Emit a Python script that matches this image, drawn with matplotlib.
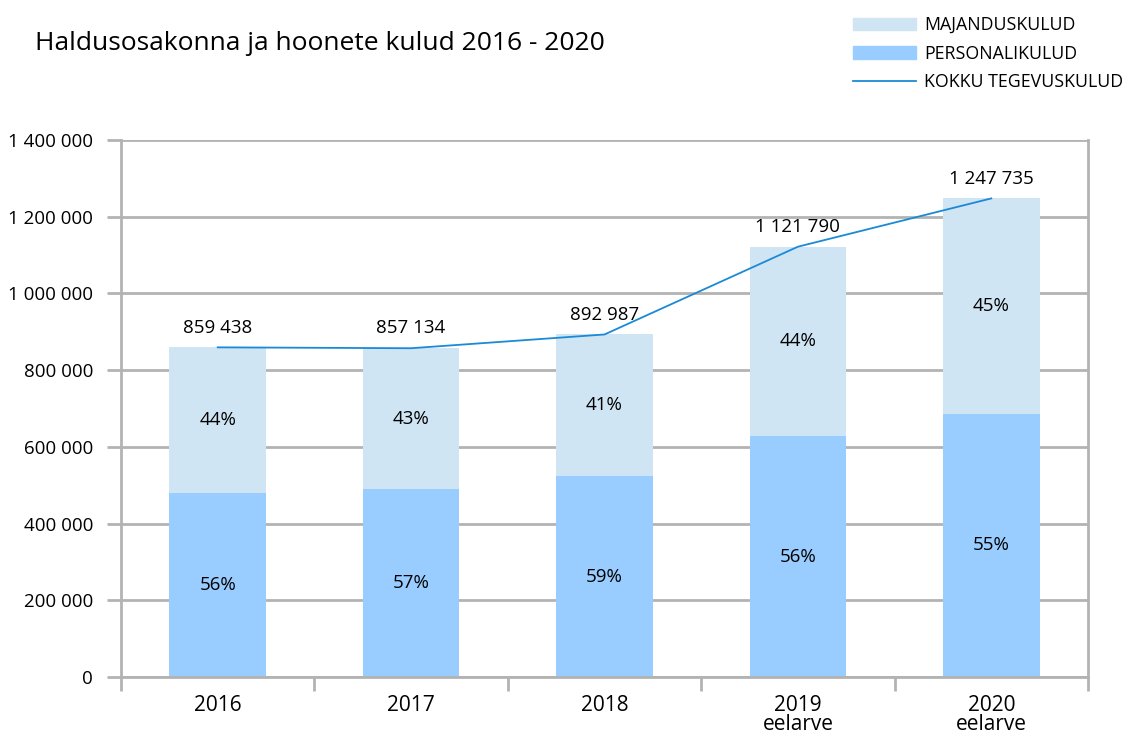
import matplotlib
matplotlib.use("Agg")
import matplotlib.pyplot as plt
from matplotlib.patches import Patch
from matplotlib.lines import Line2D

plt.rcParams['font.family'] = ['Open Sans', 'DejaVu Sans']

categories = ["2016", "2017", "2018", "2019\neelarve", "2020\neelarve"]
personal = [481000, 489000, 524000, 628000, 686000]
majandus = [378438, 368134, 368987, 493790, 561735]
totals = [859438, 857134, 892987, 1121790, 1247735]
personal_pct = ["56%", "57%", "59%", "56%", "55%"]
majandus_pct = ["44%", "43%", "41%", "44%", "45%"]
total_labels = ["859 438", "857 134", "892 987", "1 121 790", "1 247 735"]
yticks = [0, 200000, 400000, 600000, 800000, 1000000, 1200000, 1400000]
ytick_labels = ["0", "200 000", "400 000", "600 000", "800 000", "1 000 000", "1 200 000", "1 400 000"]

C_PERS = "#99ccff"
C_MAJ = "#cfe5f4"
C_LINE = "#1a8ad6"
C_GRID = "#b3b3b3"

fig = plt.figure(figsize=(11.35, 7.38), dpi=100)
ax = fig.add_axes([121/1135, 1-677/738, (1088-121)/1135, (677-140)/738])

x = list(range(len(categories)))
ax.bar(x, personal, width=0.5, color=C_PERS, zorder=2)
ax.bar(x, majandus, width=0.5, bottom=personal, color=C_MAJ, zorder=2)
ax.plot(x, totals, color=C_LINE, lw=1.3, zorder=3)

for i in x:
    ax.text(i, personal[i] / 2, personal_pct[i], ha='center', va='center', fontsize=13.5, zorder=4)
    ax.text(i, personal[i] + majandus[i] / 2, majandus_pct[i], ha='center', va='center', fontsize=13.5, zorder=4)
    ax.text(i, totals[i] + 28000, total_labels[i], ha='center', va='bottom', fontsize=13.5, zorder=4)

ax.set_xlim(-0.5, 4.5)
ax.set_ylim(0, 1400000)
ax.set_yticks(yticks)
ax.set_yticklabels(ytick_labels, fontsize=13.5)
ax.yaxis.grid(True, color=C_GRID, lw=2, zorder=0)
ax.set_axisbelow(True)

# category labels, ticks at boundaries
ax.set_xticks([i + 0.5 for i in range(-1, 5)], minor=False)
ax.set_xticklabels([])
ax.set_xticks(x, minor=True)
ax.set_xticklabels(categories, minor=True, fontsize=15, linespacing=0.88)
ax.tick_params(axis='x', which='minor', length=0, pad=13)
ax.tick_params(axis='x', which='major', length=10, width=2, color=C_GRID)
ax.tick_params(axis='y', length=10, width=2, color=C_GRID, pad=10)

for s in ['top']:
    ax.spines[s].set_visible(False)
for s in ['left', 'bottom', 'right']:
    ax.spines[s].set_color(C_GRID)
    ax.spines[s].set_linewidth(2)

fig.text(35/1135, 1-43/738, "Haldusosakonna ja hoonete kulud 2016 - 2020", fontsize=19, va='center', ha='left')

handles = [Patch(color=C_MAJ), Patch(color=C_PERS), Line2D([], [], color=C_LINE, lw=1.3)]
labels = ["MAJANDUSKULUD", "PERSONALIKULUD", "KOKKU TEGEVUSKULUD"]
fig.legend(handles, labels, loc='upper left', bbox_to_anchor=(846/1135, 1 - 9/738),
           frameon=False, fontsize=12.8, handlelength=3.55, handleheight=0.7,
           handletextpad=0.45, labelspacing=0.6, borderaxespad=0)

fig.savefig("out.png", dpi=100)
